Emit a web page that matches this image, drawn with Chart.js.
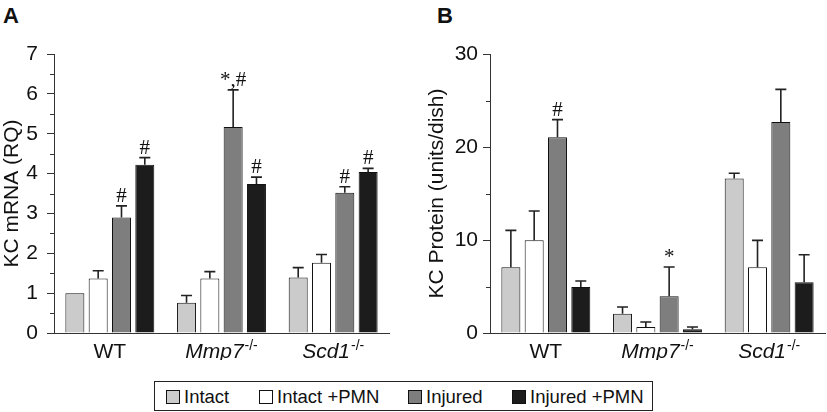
<!DOCTYPE html>
<html>
<head>
<meta charset="utf-8">
<script src="https://cdn.jsdelivr.net/npm/chart.js@4/dist/chart.umd.min.js"></script>
<style>
  html, body { margin: 0; padding: 0; background: #fff; }
  body { width: 827px; height: 412px; position: relative; overflow: hidden; font-family: "Liberation Sans", Arial, sans-serif; color: #111; }
  #cA { position: absolute; left: 0; top: 0; }
  #cB { position: absolute; left: 410px; top: 0; }
  .panel { position: absolute; font-weight: bold; font-size: 22px; top: 3px; }
  #legend { position: absolute; left: 154px; top: 381px; width: 497px; height: 28px; border: 1px solid #222;
            font-size: 18.5px; box-sizing: content-box; }
  .item { display: flex; align-items: center; position: absolute; top: 4px; }
  .sw { width: 14px; height: 14px; border: 1px solid #111; box-sizing: border-box; margin-right: 4px; }
</style>
</head>
<body>
<div class="panel" style="left:3px">A</div>
<div class="panel" style="left:437px">B</div>
<canvas id="cA" width="410" height="360"></canvas>
<canvas id="cB" width="417" height="360"></canvas>
<div id="legend"></div>
<script>
// ---------- DATA ----------
const groupNames   = ['WT', 'Mmp7', 'Scd1'];
const groupItalic  = [false, true, true];
const groupSup     = ['', '-/-', '-/-'];
const seriesNames  = ['Intact', 'Intact +PMN', 'Injured', 'Injured +PMN'];

// Panel A: KC mRNA (RQ)
const mrnaIntact        = [1.00, 0.76, 1.39];
const mrnaIntactErr     = [0.00, 0.18, 0.25];
const mrnaIntactPMN     = [1.37, 1.37, 1.76];
const mrnaIntactPMNErr  = [0.19, 0.17, 0.21];
const mrnaInjured       = [2.90, 5.17, 3.52];
const mrnaInjuredErr    = [0.29, 0.93, 0.15];
const mrnaInjuredPMN    = [4.22, 3.74, 4.04];
const mrnaInjuredPMNErr = [0.18, 0.17, 0.09];
const mrnaMarks = [['', '', ''], ['', '', ''], ['#', '*,#', '#'], ['#', '#', '#']];
const mrnaTicks = [0, 1, 2, 3, 4, 5, 6, 7];

// Panel B: KC Protein (units/dish)
const protIntact        = [7.06, 2.08, 16.60];
const protIntactErr     = [3.98, 0.72, 0.57];
const protIntactPMN     = [9.96, 0.65, 7.06];
const protIntactPMNErr  = [3.16, 0.53, 2.90];
const protInjured       = [21.04, 3.94, 22.69];
const protInjuredErr    = [1.90, 3.16, 3.51];
const protInjuredPMN    = [4.95, 0.39, 5.45];
const protInjuredPMNErr = [0.64, 0.26, 2.97];
const protMarks = [['', '', ''], ['', '', ''], ['#', '*', ''], ['', '', '']];
const protTicks = [0, 10, 20, 30];

// ---------- STYLE ----------
const colors = ['#cbcbcb', '#ffffff', '#7e7e7e', '#1c1c1c'];
const FONT = '"Liberation Sans", Arial, sans-serif';
const FS = 21;

// legend
const legendX = [11, 104, 253, 357];
const lg = document.getElementById('legend');
seriesNames.forEach((n, i) => {
  const d = document.createElement('div');
  d.className = 'item';
  d.style.left = legendX[i] + 'px';
  const s = document.createElement('div');
  s.className = 'sw'; s.style.background = colors[i];
  const t = document.createElement('span'); t.textContent = n;
  d.appendChild(s); d.appendChild(t); lg.appendChild(d);
});

const errPlugin = {
  id: 'errbars',
  afterDatasetsDraw(chart) {
    const o = chart.options.plugins.errbars;
    const ctx = chart.ctx, y = chart.scales.y;
    ctx.save();
    chart.data.datasets.forEach((ds, i) => {
      const meta = chart.getDatasetMeta(i);
      meta.data.forEach((el, j) => {
        const v = ds.data[j], e = ds.err[j];
        const yv = y.getPixelForValue(v), ye = y.getPixelForValue(v + e);
        if (e > 0) {
          ctx.strokeStyle = '#222'; ctx.lineWidth = 1.6;
          ctx.beginPath();
          ctx.moveTo(el.x, yv); ctx.lineTo(el.x, ye);
          ctx.moveTo(el.x - 5.5, ye); ctx.lineTo(el.x + 5.5, ye);
          ctx.stroke();
        }
        const m = ds.marks[j];
        if (m) {
          ctx.fillStyle = '#111';
          ctx.font = '21px "Liberation Serif", "Times New Roman", serif';
          ctx.textAlign = 'center'; ctx.textBaseline = 'alphabetic';
          ctx.fillText(m, el.x, ye - 4);
        }
      });
    });
    // minor ticks
    ctx.strokeStyle = '#333'; ctx.lineWidth = 1;
    const left = chart.chartArea.left;
    for (let v = y.min + o.minor; v < y.max; v += o.minor * 2) {
      const py = Math.round(y.getPixelForValue(v)) + 0.5;
      ctx.beginPath(); ctx.moveTo(left - 4, py); ctx.lineTo(left, py); ctx.stroke();
    }
    // x labels with italic + superscript
    const x = chart.scales.x;
    const base = chart.chartArea.bottom + 25;
    groupNames.forEach((g, k) => {
      const cx = x.getPixelForValue(k);
      ctx.fillStyle = '#111'; ctx.textBaseline = 'alphabetic'; ctx.textAlign = 'left';
      const f1 = (groupItalic[k] ? 'italic ' : '') + FS + 'px ' + FONT;
      const f2 = '14px ' + FONT;
      ctx.font = f1; const w1 = ctx.measureText(g).width;
      ctx.font = f2; const w2 = groupSup[k] ? ctx.measureText(groupSup[k]).width + 1 : 0;
      const sx = cx - (w1 + w2) / 2;
      ctx.font = f1; ctx.fillText(g, sx, base);
      if (groupSup[k]) { ctx.font = f2; ctx.fillText(groupSup[k], sx + w1 + 1, base - 8); }
    });
    ctx.restore();
  }
};

function makeChart(id, vals, errs, marks, ticks, title, opts) {
  return new Chart(document.getElementById(id), {
    type: 'bar',
    data: {
      labels: groupNames,
      datasets: seriesNames.map((n, i) => ({
        label: n, data: vals[i], err: errs[i], marks: marks[i],
        backgroundColor: colors[i], borderColor: '#111', borderWidth: 1,
        categoryPercentage: 0.835, barPercentage: 0.815
      }))
    },
    options: {
      responsive: false, animation: false, devicePixelRatio: 1,
      layout: { padding: { top: 54, right: opts.padRight, left: 0, bottom: 0 } },
      plugins: { legend: { display: false }, tooltip: { enabled: false }, errbars: { minor: opts.minor } },
      scales: {
        x: {
          grid: { display: false },
          border: { display: true, color: '#333', width: 1 },
          ticks: { display: false },
          afterFit(s) { s.height = 27; }
        },
        y: {
          min: ticks[0], max: ticks[ticks.length - 1],
          afterBuildTicks(s) { s.ticks = ticks.map(v => ({ value: v })); },
          grid: { display: true, drawOnChartArea: false, drawTicks: true, tickLength: 7, color: '#333' },
          border: { display: true, color: '#333', width: 1 },
          ticks: { font: { family: FONT, size: FS }, color: '#111', padding: opts.tickPad },
          title: { display: true, text: title, font: { family: FONT, size: FS }, color: '#111',
                   padding: { top: opts.titlePad, bottom: 0 } },
          afterFit(s) { s.width = opts.axisW; }
        }
      }
    },
    plugins: [errPlugin]
  });
}

makeChart('cA',
  [mrnaIntact, mrnaIntactPMN, mrnaInjured, mrnaInjuredPMN],
  [mrnaIntactErr, mrnaIntactPMNErr, mrnaInjuredErr, mrnaInjuredPMNErr],
  mrnaMarks, mrnaTicks, 'KC mRNA (RQ)',
  { padRight: 21, minor: 0.5, tickPad: 9, titlePad: 0, axisW: 54 });

makeChart('cB',
  [protIntact, protIntactPMN, protInjured, protInjuredPMN],
  [protIntactErr, protIntactPMNErr, protInjuredErr, protInjuredPMNErr],
  protMarks, protTicks, 'KC Protein (units/dish)',
  { padRight: 2, minor: 5, tickPad: 5, titlePad: 15, axisW: 80 });
</script>
</body>
</html>
